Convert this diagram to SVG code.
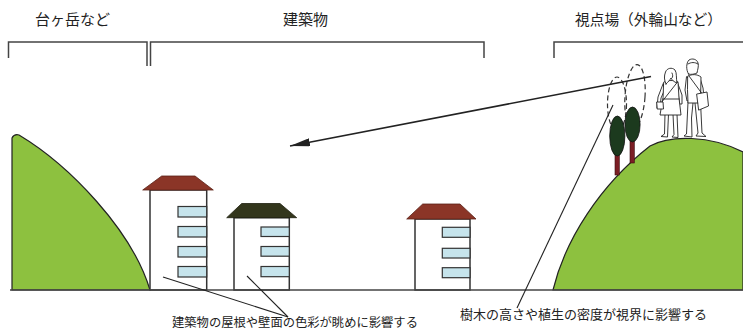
<svg xmlns="http://www.w3.org/2000/svg" width="743" height="331" viewBox="0 0 743 331">
  <style>
    .label { font-family: "Noto Sans CJK JP", "Noto Sans", sans-serif; fill: #222; }
    .bracket { fill: none; stroke: #444; stroke-width: 1.5; }
    .hill { fill: #8dc13f; stroke: #222; stroke-width: 1.2; }
    .wall { fill: #fff; stroke: #333; stroke-width: 1.5; }
    .win { fill: #c6e4ec; stroke: #333; stroke-width: 1.2; }
    .roof-red { fill: #8b3527; stroke: #5a2218; stroke-width: 0.8; }
    .roof-dark { fill: #33361c; stroke: #1e200f; stroke-width: 0.8; }
    .crown { fill: #1c3a1e; stroke: #111; stroke-width: 0.8; }
    .trunk { fill: #7b1e24; stroke: #3a0c0f; stroke-width: 0.6; }
    .halo { fill: none; stroke: #333; stroke-width: 1.2; stroke-dasharray: 5 3; }
    .figure { fill: #fff; stroke: #222; stroke-width: 0.9; stroke-linejoin: round; stroke-linecap: round; }
    .lead { fill: none; stroke: #222; stroke-width: 1.1; }
  </style>
  <defs>
    <marker id="arrow" viewBox="0 0 20 8" refX="20" refY="4" markerWidth="20" markerHeight="8" markerUnits="userSpaceOnUse" orient="auto">
      <path d="M0,0 L20,4 L0,8 Z" fill="#222"/>
    </marker>
  </defs>

  <rect width="743" height="331" fill="#fff"/>

  <!-- section labels -->
  <g id="labels">
    <text class="label" x="35" y="24.5" font-size="15">台ヶ岳など</text>
    <text class="label" x="283" y="24.5" font-size="15">建築物</text>
    <text class="label" x="575" y="24.5" font-size="14.7">視点場（外輪山など）</text>
    <text class="label" x="172" y="327" font-size="12.3">建築物の屋根や壁面の色彩が眺めに影響する</text>
    <text class="label" x="460" y="319" font-size="13">樹木の高さや植生の密度が視界に影響する</text>
  </g>

  <!-- brackets under the section labels -->
  <g id="brackets">
    <path class="bracket" d="M8.5,58 V42 H147 V66"/>
    <path class="bracket" d="M150.5,66 V42 H484 V58"/>
    <path class="bracket" d="M554,58 V42 H743"/>
  </g>

  <!-- hills -->
  <g id="hill-left">
    <path class="hill" d="M12,290 L12,138 C13,136 15,134 19,135 C69,165 132,230 150,290 Z"/>
  </g>
  <g id="hill-right">
    <path class="hill" d="M553,290 C565,240 600,185 650,146 C670,135 710,135 743,152 L743,290 Z"/>
  </g>

  <!-- buildings -->
  <g id="building-1">
    <rect class="wall" x="150" y="190" width="56.7" height="100"/>
    <path class="roof-red" d="M142.7,190 L161.7,176 H195 L213.3,190 Z"/>
    <rect class="win" x="178" y="206.5" width="28.7" height="10.5"/>
    <rect class="win" x="178" y="226.5" width="28.7" height="10.5"/>
    <rect class="win" x="178" y="246.5" width="28.7" height="10.5"/>
    <rect class="win" x="178" y="266.5" width="28.7" height="10.5"/>
  </g>
  <g id="building-2">
    <rect class="wall" x="234" y="217.7" width="55.3" height="72.3"/>
    <path class="roof-dark" d="M226.7,217.7 L241.7,203.5 H280 L296.7,217.7 Z"/>
    <rect class="win" x="261" y="227" width="28.3" height="9.5"/>
    <rect class="win" x="261" y="246.5" width="28.3" height="9.7"/>
    <rect class="win" x="261" y="266.5" width="28.3" height="10.2"/>
  </g>
  <g id="building-3">
    <rect class="wall" x="415" y="219" width="55" height="71"/>
    <path class="roof-red" d="M406.7,219 L422.7,204 H460 L476,219 Z"/>
    <rect class="win" x="442.3" y="227.3" width="27.7" height="10"/>
    <rect class="win" x="442.3" y="248.3" width="27.7" height="9.7"/>
    <rect class="win" x="442.3" y="267.7" width="27.7" height="10"/>
  </g>

  <!-- ground line -->
  <g id="ground">
    <line x1="10" y1="290" x2="743" y2="290" stroke="#444" stroke-width="1.5"/>
  </g>

  <!-- dashed view envelopes around the trees -->
  <g id="view-envelopes">
    <ellipse class="halo" cx="617" cy="104" rx="9.5" ry="27"/>
    <ellipse class="halo" cx="635" cy="96.5" rx="10" ry="32" transform="rotate(4 635 96.5)"/>
  </g>

  <!-- trees -->
  <g id="tree-1">
    <rect class="trunk" x="615" y="153" width="4.3" height="22"/>
    <ellipse class="crown" cx="617.3" cy="136" rx="7.6" ry="20"/>
  </g>
  <g id="tree-2">
    <rect class="trunk" x="630" y="139" width="4.3" height="24"/>
    <ellipse class="crown" cx="632.5" cy="124.5" rx="7.6" ry="17.5"/>
  </g>

  <!-- viewers standing on the rim -->
  <g id="viewer-woman">
    <!-- legs -->
    <path class="figure" d="M665,114 L664.5,134 L661,136.5 L667.5,137 L668.5,114 Z"/>
    <path class="figure" d="M673,114 L674,134.5 L672,137 L678,137.5 L677,114 Z"/>
    <!-- arms -->
    <path class="figure" d="M663,84 L658,97 L657,108 L660,108.5 L661,98 L665,89 Z"/>
    <path class="figure" d="M678,84 L682,95 L682,104 L679.5,104 L678.5,96 L676,90 Z"/>
    <!-- torso and skirt -->
    <path class="figure" d="M664,82 C668,80 674,80 678,82 L679,98 L681,115 L660,115 L663,98 Z"/>
    <line class="figure" x1="663" y1="99" x2="679" y2="99"/>
    <!-- shoulder bag -->
    <path class="figure" d="M677.5,82 L661,103"/>
    <path class="figure" d="M657,102 L663,102 L663.5,109 L657.5,109 Z"/>
    <!-- head and hair -->
    <path class="figure" d="M666,84 C664,80 664,76 665.5,72 C667,68 672,67 675,70 C677,73 676,78 677,83 C674,82 672,80 671,78 C670,80 668,82 666,84 Z"/>
    <path class="figure" d="M672,73 C673,75 673,77 672,78"/>
  </g>
  <g id="viewer-man">
    <!-- legs -->
    <path class="figure" d="M688,102 L686.5,134 L684,136 L692,137 L691.5,118 L693,103 Z"/>
    <path class="figure" d="M695,103 L698,133 L696,136 L706,136.5 L702,133 L700.5,102 Z"/>
    <!-- arms -->
    <path class="figure" d="M686.5,77 L685,90 L687,101 L690,100 L689,89 L690,80 Z"/>
    <path class="figure" d="M700,78 L703,88 L704,97 L701.5,97.5 L700,89 L698,82 Z"/>
    <!-- torso -->
    <path class="figure" d="M688,76 C692,74 697,74 701,77 L700.5,103 L688,103 L687.5,90 Z"/>
    <!-- shoulder bag -->
    <path class="figure" d="M689,76 L703,95"/>
    <path class="figure" d="M697,94 L707,92 L708.5,106 L699,110 Z"/>
    <!-- head -->
    <path class="figure" d="M688.5,74 C686,70 686,63 689,60 C692,58 697,59 698,63 C699,66 697.5,70 697,73 C695,74 691,75 688.5,74 Z"/>
    <path class="figure" d="M688,64 C691,62 695,62 698,64"/>
  </g>

  <!-- connectors: sight line and annotation leaders -->
  <g id="connectors">
    <line x1="651" y1="76.5" x2="290" y2="146" stroke="#222" stroke-width="1.6" marker-end="url(#arrow)"/>
    <path class="lead" d="M163,277 L288,317"/>
    <path class="lead" d="M247,276 L288,317"/>
    <path class="lead" d="M517,308 L613,105"/>
  </g>
</svg>
